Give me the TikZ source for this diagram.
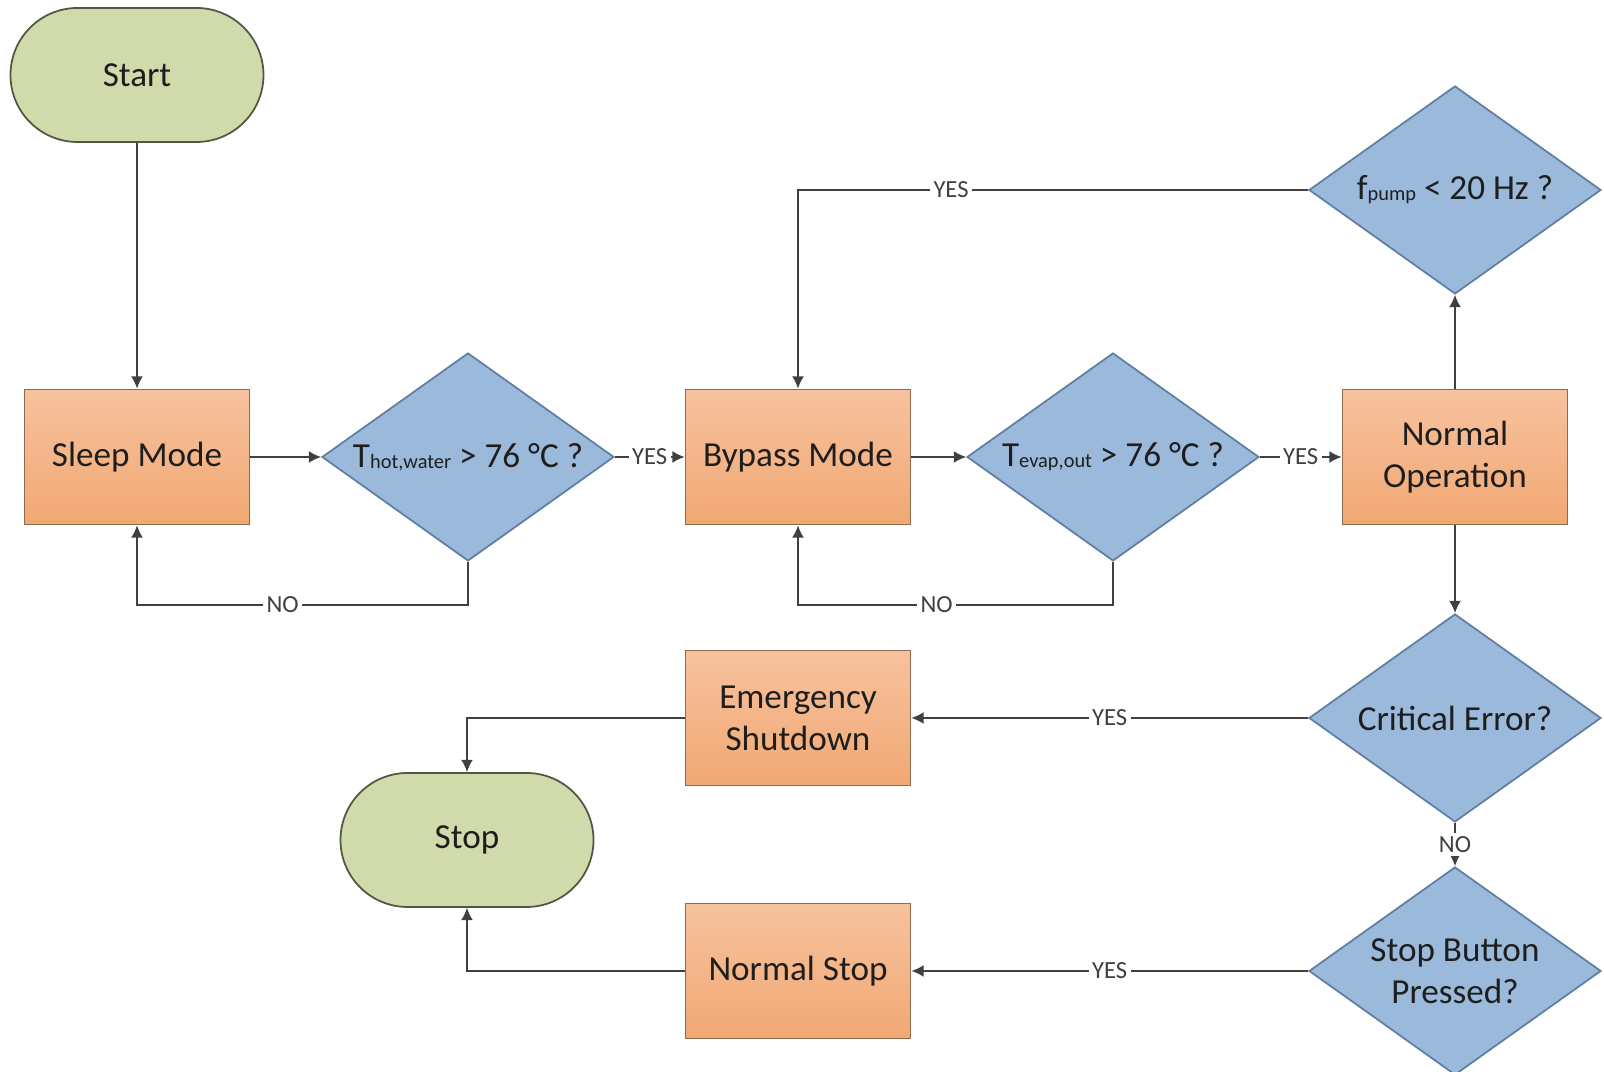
\documentclass[tikz,border=0pt]{standalone}
\usepackage{fontspec}
\setmainfont{Carlito}
\usetikzlibrary{arrows.meta,shapes.geometric,shapes.misc}
\definecolor{linie}{HTML}{404040}
\definecolor{schrift}{HTML}{1E1E1E}
\definecolor{orhell}{HTML}{F7C29E}
\definecolor{ordunkel}{HTML}{F1A873}
\definecolor{orrand}{HTML}{8E6A50}
\definecolor{blau}{HTML}{9BBADB}
\definecolor{blrand}{HTML}{5F7EA3}
\definecolor{gruen}{HTML}{D0DAAA}
\definecolor{grrand}{HTML}{4F5840}
\newcommand{\idx}[1]{\raisebox{-0.3pt}{\fontsize{5.8}{6}\selectfont #1}}
\tikzset{
  proc/.style={rectangle,draw=orrand,top color=orhell,bottom color=ordunkel,minimum width=2.25cm,minimum height=1.35cm,inner sep=0pt,align=center,line width=0.5pt,text=schrift,font=\fontsize{10}{12}\selectfont},
  dec/.style={diamond,shape aspect=1.4,draw=blrand,fill=blau,minimum width=2.92cm,minimum height=2.08cm,inner sep=0pt,align=center,line width=0.5pt,text=schrift,font=\fontsize{10}{12}\selectfont},
  term/.style={rounded rectangle,draw=grrand,fill=gruen,minimum width=2.53cm,minimum height=1.34cm,inner sep=0pt,line width=0.5pt,text=schrift,font=\fontsize{10}{12}\selectfont},
  pfeil/.style={-{Latex[length=3.5pt,width=3.4pt]},linie,line width=0.45pt},
  lbl/.style={fill=white,inner sep=1pt,text=linie,font=\fontsize{7}{8}\selectfont},
}
\begin{document}
\begin{tikzpicture}
  \useasboundingbox (0,0) rectangle (16.04,10.72);
  \node[term] (start) at (1.37,9.97) {Start};
  \node[proc] (sleep) at (1.37,6.15) {Sleep Mode};
  \node[dec] (d1) at (4.68,6.15) {T\idx{hot,water} > 76 °C ?};
  \node[proc] (bypass) at (7.98,6.15) {Bypass Mode};
  \node[dec] (d2) at (11.13,6.15) {T\idx{evap,out} > 76 °C ?};
  \node[proc] (normop) at (14.55,6.15) {Normal\\Operation};
  \node[dec] (fpump) at (14.55,8.82) {f\idx{pump} < 20 Hz ?};
  \node[dec] (crit) at (14.55,3.54) {Critical Error?};
  \node[dec] (stopbtn) at (14.55,1.01) {Stop Button\\Pressed?};
  \node[proc] (emerg) at (7.98,3.54) {Emergency\\Shutdown};
  \node[proc] (nstop) at (7.98,1.01) {Normal Stop};
  \node[term] (stop) at (4.67,2.32) {Stop};
  \draw[pfeil] (start) -- (sleep);
  \draw[pfeil] (sleep) -- (d1);
  \draw[pfeil] (d1) -- node[lbl]{YES} (bypass);
  \draw[pfeil] (d1.south) -- ++(0,-0.43) -| node[lbl,pos=0.28]{NO} (sleep.south);
  \draw[pfeil] (bypass) -- (d2);
  \draw[pfeil] (d2) -- node[lbl]{YES} (normop);
  \draw[pfeil] (d2.south) -- ++(0,-0.43) -| node[lbl,pos=0.28]{NO} (bypass.south);
  \draw[pfeil] (normop) -- (fpump);
  \draw[pfeil] (fpump) -| node[lbl,pos=0.35]{YES} (bypass);
  \draw[pfeil] (normop) -- (crit);
  \draw[pfeil] (crit) -- node[lbl]{YES} (emerg);
  \draw[pfeil] (crit) -- node[lbl]{NO} (stopbtn);
  \draw[pfeil] (stopbtn) -- node[lbl]{YES} (nstop);
  \draw[pfeil] (emerg) -| (stop);
  \draw[pfeil] (nstop) -| (stop);
\end{tikzpicture}
\end{document}
